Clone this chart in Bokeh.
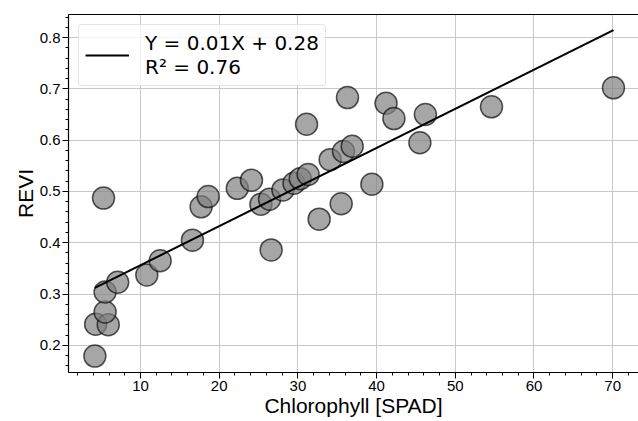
import numpy as np
from bokeh.plotting import figure
from bokeh.models import (Range1d, SingleIntervalTicker, LinearAxis, FixedTicker,
                          Legend, LegendItem, ColumnDataSource)
from bokeh.embed import file_html
from bokeh.resources import INLINE

chlorophyll = [4.2, 4.3, 5.9, 5.5, 5.5, 5.3, 7.1, 10.8, 12.5, 16.6, 17.7, 18.6,
               22.3, 24.1, 25.3, 26.4, 26.6, 28.1, 29.5, 30.3, 31.3, 31.1, 32.7,
               34.1, 35.5, 35.8, 36.9, 36.3, 39.4, 41.2, 42.2, 45.5, 46.2, 54.6, 70.1]
revi = [0.179, 0.241, 0.240, 0.265, 0.304, 0.487, 0.323, 0.337, 0.365, 0.405,
        0.470, 0.490, 0.506, 0.522, 0.475, 0.485, 0.386, 0.503, 0.516, 0.525,
        0.533, 0.631, 0.446, 0.562, 0.476, 0.578, 0.588, 0.683, 0.514, 0.672,
        0.642, 0.595, 0.650, 0.665, 0.702]
fit_label = "Y = 0.01X + 0.28\nR² = 0.76"
x_label = "Chlorophyll [SPAD]"
y_label = "REVI"

x = np.array(chlorophyll)
y = np.array(revi)
slope, intercept = np.polyfit(x, y, 1)
fit_x = np.array([x.min(), x.max()])
fit_y = slope * fit_x + intercept

p = figure(width=638, height=421, output_backend="svg", toolbar_location=None,
           x_range=Range1d(0.85, 73.28), y_range=Range1d(0.147, 0.845),
           min_border_left=68, min_border_right=0, min_border_top=14, min_border_bottom=49)
p.outline_line_color = None
p.background_fill_color = "white"

src = ColumnDataSource(dict(x=chlorophyll, y=revi))
p.scatter("x", "y", source=src, size=22, fill_color="gray", fill_alpha=0.7,
          line_color="black", line_alpha=0.65, line_width=1.5)
fit_r = p.line(fit_x, fit_y, line_color="black", line_width=2)

tick_font = "Liberation Sans"
for ax in (p.xaxis[0], p.yaxis[0]):
    ax.major_label_text_font = tick_font
    ax.major_label_text_font_size = "15px"
    ax.major_label_text_color = "black"
    ax.axis_label_text_font = tick_font
    ax.axis_label_text_font_size = "21px"
    ax.axis_label_text_font_style = "normal"
    ax.axis_label_text_color = "black"
    ax.axis_line_color = "black"
    ax.axis_line_width = 1.2
    ax.major_tick_out = 6
    ax.major_tick_in = 0
    ax.minor_tick_out = 3
    ax.minor_tick_in = 0
    ax.major_tick_line_color = "black"
    ax.minor_tick_line_color = "black"
    ax.major_label_standoff = 2
    ax.axis_label_standoff = 0

p.xaxis[0].ticker = SingleIntervalTicker(interval=10, num_minor_ticks=5)
p.yaxis[0].ticker = SingleIntervalTicker(interval=0.1, num_minor_ticks=5)
p.xaxis[0].axis_label = x_label
p.yaxis[0].axis_label = y_label

top = LinearAxis(ticker=FixedTicker(ticks=[]), major_label_text_font_size="0px",
                 major_tick_out=0, minor_tick_out=0, axis_line_color="black",
                 axis_line_width=1.2)
p.add_layout(top, "above")

p.xgrid.ticker = SingleIntervalTicker(interval=10)
p.ygrid.ticker = SingleIntervalTicker(interval=0.1)
p.grid.grid_line_color = "#c8c8c8"
p.grid.grid_line_alpha = 1.0
p.grid.grid_line_width = 1

legend = Legend(items=[LegendItem(label=fit_label, renderers=[fit_r])],
                location="top_left", margin=10, padding=6,
                glyph_width=44, label_standoff=16,
                label_text_font="DejaVu Sans", label_text_font_size="20px",
                label_text_line_height=1.0, label_text_color="black",
                border_line_color="#cccccc", border_line_width=1,
                background_fill_alpha=0.8)
if "border_radius" in Legend.properties():
    legend.border_radius = 4
p.add_layout(legend, "center")

open("out.html", "w").write(file_html(p, INLINE))
